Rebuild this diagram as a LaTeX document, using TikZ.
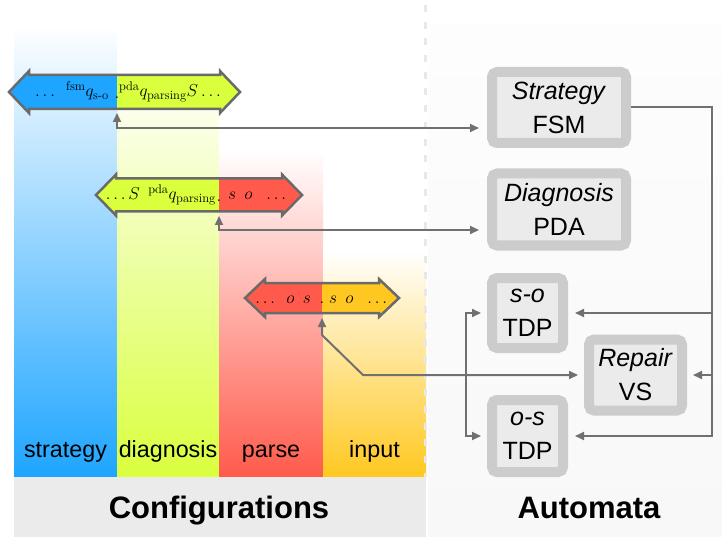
\documentclass[tikz,border=0pt]{standalone}
\usepackage{fontspec}
\usepackage{amsmath}
\newfontfamily\arial{Liberation Sans}
\usetikzlibrary{arrows.meta,calc}

\definecolor{cblue}{HTML}{1EA5FF}
\definecolor{clime}{HTML}{D9FF3D}
\definecolor{cred}{HTML}{FF5A4B}
\definecolor{cyel}{HTML}{FFC820}
\definecolor{rim}{HTML}{6A6A6A}
\definecolor{wire}{HTML}{707070}
\definecolor{boxrim}{HTML}{CCCCCC}
\definecolor{boxfill}{HTML}{EBEBEB}
\definecolor{band}{HTML}{EBEBEB}
\definecolor{paneltop}{HTML}{FDFDFD}
\definecolor{panelbot}{HTML}{F8F8F8}
\definecolor{divider}{HTML}{E8E8E8}

% outline of a double-headed block arrow:
% #1 left tip x, #2 right tip x, #3 centre y, #4 half shaft height
\newcommand{\arrowshape}[4]{(#1,#3) -- (#1+20,#3-#4-4) -- (#1+20,#3-#4) -- (#2-20,#3-#4)
  -- (#2-20,#3-#4-4) -- (#2,#3) -- (#2-20,#3+#4+4) -- (#2-20,#3+#4) -- (#1+20,#3+#4)
  -- (#1+20,#3+#4+4) -- cycle}

% two-coloured block arrow, split at x = #2
\newcommand{\dualarrow}[7]{%
  \begin{scope}
    \clip (#1-5,#4-40) rectangle (#2,#4+40);
    \fill[#6] \arrowshape{#1}{#3}{#4}{#5};
  \end{scope}
  \begin{scope}
    \clip (#2,#4-40) rectangle (#3+5,#4+40);
    \fill[#7] \arrowshape{#1}{#3}{#4}{#5};
  \end{scope}
  \draw[rim, line width=2.5pt, line join=miter] \arrowshape{#1}{#3}{#4}{#5};
}

\begin{document}
\begin{tikzpicture}[x=1pt, y=-1pt,
  mtext/.style={inner sep=0pt, font=\fontsize{18}{21}\selectfont},
  collabel/.style={inner sep=0pt, anchor=base, font=\arial\fontsize{23.3}{27}\selectfont},
  title/.style={inner sep=0pt, anchor=base, font=\arial\bfseries\fontsize{31}{35}\selectfont},
  autbox/.style={draw=boxrim, fill=boxfill, line width=10pt, rounded corners=5pt,
    inner sep=0pt, align=center, font=\arial\fontsize{25}{34}\selectfont},
  conn/.style={draw=wire, line width=2pt, arrows={-Triangle[length=9pt,width=8pt]}},
  conn2/.style={draw=wire, line width=2pt, arrows={Triangle[length=9pt,width=8pt]-Triangle[length=9pt,width=8pt]}}]

\useasboundingbox (0,0) rectangle (722,537);

% right-hand panel
\shade[top color=paneltop, bottom color=panelbot] (428,25) rectangle (722,537);

% configuration columns
\shade[top color=white, bottom color=cblue] (14,25) rectangle (117,477);
\shade[top color=white, bottom color=clime] (117,67) rectangle (219,477);
\shade[top color=white, bottom color=cred] (219,150) rectangle (323,477);
\shade[top color=white, bottom color=cyel] (323,250) rectangle (426,477);

% divider
\draw[divider, line width=3pt, dash pattern=on 7pt off 9.7pt] (425,5) -- (425,477);

% bottom band
\fill[band] (14,477) rectangle (426,537);

\node[collabel] (lstrategy) at (65.5,457) {strategy};
\node[collabel] (ldiagnosis) at (168,457) {diagnosis};
\node[collabel] (lparse) at (271,457) {parse};
\node[collabel] (linput) at (374.5,457) {input};

\node[title] (tconf) at (219,518) {Configurations};
\node[title] (tauto) at (589,518) {Automata};

% configuration arrows
\dualarrow{9}{117}{240}{92}{17}{cblue}{clime}
\node[mtext, anchor=base east] (a1l) at (109,97) {$\ldots\ \,{}^{\mathrm{fsm}}q_{\text{s-o}}$};
\node[mtext, anchor=base] (a1d) at (117,99) {$.$};
\node[mtext, anchor=base west] (a1r) at (119,97) {${}^{\mathrm{pda}}q_{\mathrm{parsing}}S\ldots$};

\dualarrow{96}{219}{302}{195}{16.5}{clime}{cred}
\node[mtext, anchor=base east] (a2l) at (216,200) {$\ldots S\ \,{}^{\mathrm{pda}}q_{\mathrm{parsing}}$};
\node[mtext, anchor=base] (a2d) at (219,202) {$.$};
\node[mtext, anchor=base west] (a2r) at (228,200) {$s\ \,o\ \ \ldots$};

\dualarrow{245}{322}{399}{298}{15}{cred}{cyel}
\node[mtext, anchor=base east] (a3l) at (311,303) {$\ldots\ \,o\ \,s$};
\node[mtext, anchor=base] (a3d) at (322,303) {$.$};
\node[mtext, anchor=base west] (a3r) at (329,303) {$s\ \,o\ \ \ldots$};

% automata
\node[autbox, minimum width=134pt, minimum height=71pt] (strat) at (559,107.5) {\textit{Strategy}\\FSM};
\node[autbox, minimum width=134pt, minimum height=72pt] (diag) at (559,209.5) {\textit{Diagnosis}\\PDA};
\node[autbox, minimum width=71pt, minimum height=70pt] (so) at (527.5,313) {\textit{s-o}\\TDP};
\node[autbox, minimum width=93pt, minimum height=71pt] (repair) at (635.5,375) {\textit{Repair}\\VS};
\node[autbox, minimum width=71pt, minimum height=72pt] (os) at (527.5,436) {\textit{o-s}\\TDP};

% links between configurations and automata
\coordinate (t1) at (117,113);
\coordinate (t2) at (219,216);
\coordinate (t3) at (322,318);
\coordinate (k1) at (322,335);
\coordinate (k2) at (363,375);
\coordinate (j) at (466,375);
\coordinate (rail) at (712,0);

\draw[conn2, shorten >=8pt] (t1) |- ($(strat.west)+(0,20.5)$);
\draw[conn2, shorten >=8pt] (t2) |- ($(diag.west)+(0,20.5)$);
\draw[conn2, shorten >=6pt] (t3) -- (k1) -- (k2) -- (k2 -| repair.west);
\draw[conn, shorten >=6pt] (j) |- (so.west);
\draw[conn, shorten >=6pt] (j) |- (os.west);

\draw[conn, shorten >=7pt] (strat.east) -- (strat.east -| rail) -- (os.east -| rail) -- (os.east);
\draw[conn, shorten >=7pt] (so.east -| rail) -- (so.east);
\draw[conn, shorten >=6pt] (repair.east -| rail) -- (repair.east);

\end{tikzpicture}
\end{document}
